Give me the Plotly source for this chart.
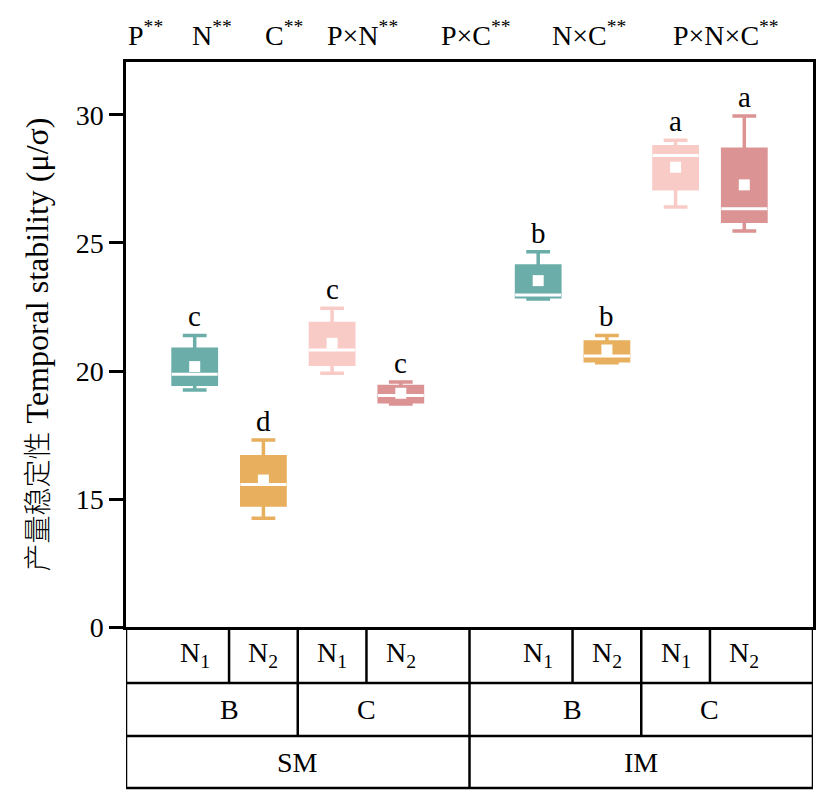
import plotly.graph_objs as go

# Box statistics (SM: B-N1, B-N2, C-N1, C-N2, IM: same order)
positions = [1, 2, 3, 4, 6, 7, 8, 9]
upper = [21.39, 17.30, 22.45, 19.57, 24.66, 21.39, 29.01, 29.96]
q3 = [20.85, 16.65, 21.86, 19.39, 24.10, 21.13, 28.76, 28.66]
median = [19.87, 15.57, 20.82, 19.04, 22.97, 20.59, 28.42, 26.34]
q1 = [19.48, 14.77, 20.26, 18.80, 22.90, 20.40, 27.12, 25.85]
lower = [19.26, 14.25, 19.91, 18.71, 22.81, 20.32, 26.41, 25.47]
mean = [20.17, 15.74, 21.08, 19.13, 23.53, 20.82, 27.96, 27.27]
letters = ['c', 'd', 'c', 'c', 'b', 'b', 'a', 'a']

# axis is broken: the bottom of the axis (10) is labelled 0
tick_vals = [10, 15, 20, 25, 30]
tick_text = ['0', '15', '20', '25', '30']

effects = ['P<sup>**</sup>', 'N<sup>**</sup>', 'C<sup>**</sup>', 'P×N<sup>**</sup>',
           'P×C<sup>**</sup>', 'N×C<sup>**</sup>', 'P×N×C<sup>**</sup>']
effect_x = [126, 190, 263, 325, 439, 550, 671]

n_labels = ['N<sub>1</sub>', 'N<sub>2</sub>'] * 4
c_labels = ['B', 'C', 'B', 'C']
c_pos = [1.5, 3.5, 6.5, 8.5]
m_labels = ['SM', 'IM']
m_pos = [2.5, 7.5]

my_colors = ['#6BADA8', '#E8B05E', '#F9CBC7', '#DB9393']
serif = 'Liberation Serif, Noto Sans CJK SC'

fig = go.Figure()

for i, p in enumerate(positions):
    color = my_colors[i % 4]
    fig.add_trace(go.Box(x=[p], q1=[q1[i]], median=[median[i]], q3=[q3[i]],
                         lowerfence=[lower[i]], upperfence=[upper[i]],
                         width=0.63, whiskerwidth=0.55,
                         fillcolor=color, line={'color': color, 'width': 3.5},
                         showlegend=False, hoverinfo='skip'))
    # white median line over the box
    fig.add_trace(go.Scatter(x=[p - 0.335, p + 0.335], y=[median[i], median[i]],
                             mode='lines', line={'color': 'white', 'width': 3},
                             showlegend=False, hoverinfo='skip'))

fig.add_trace(go.Scatter(x=positions, y=mean, mode='markers',
                         marker={'symbol': 'square', 'size': 11, 'color': 'white'},
                         showlegend=False, hoverinfo='skip'))

annotations = []
for i, p in enumerate(positions):
    annotations.append(dict(x=p, y=upper[i], text=letters[i], showarrow=False,
                            yanchor='bottom', yshift=1, font={'size': 29}))

for i, t in enumerate(effects):
    annotations.append(dict(x=(effect_x[i] - 126) / 687, y=1.05, xref='paper', yref='paper',
                            text=t, showarrow=False, xanchor='left', yanchor='middle',
                            font={'size': 28}))

# table under the plot
rows = [0, -0.0991, -0.1929, -0.2850]
for i, p in enumerate(positions):
    annotations.append(dict(x=p, y=(rows[0] + rows[1]) / 2, yref='paper', text=n_labels[i],
                            showarrow=False, xanchor='center', yanchor='middle', font={'size': 28}))
for i, p in enumerate(c_pos):
    annotations.append(dict(x=p, y=(rows[1] + rows[2]) / 2, yref='paper', text=c_labels[i],
                            showarrow=False, xanchor='center', yanchor='middle', font={'size': 28}))
for i, p in enumerate(m_pos):
    annotations.append(dict(x=p, y=(rows[2] + rows[3]) / 2, yref='paper', text=m_labels[i],
                            showarrow=False, xanchor='center', yanchor='middle', font={'size': 28}))

shapes = []
line = {'color': 'black', 'width': 2.5}
for r in rows[1:]:
    shapes.append(dict(type='line', x0=0, x1=10, y0=r, y1=r, xref='x', yref='paper', line=line))
for xv in [0, 5, 10]:
    shapes.append(dict(type='line', x0=xv, x1=xv, y0=0, y1=rows[3], xref='x', yref='paper', line=line))
for xv in [2.5, 7.5]:
    shapes.append(dict(type='line', x0=xv, x1=xv, y0=0, y1=rows[2], xref='x', yref='paper', line=line))
for xv in [1.5, 3.5, 6.5, 8.5]:
    shapes.append(dict(type='line', x0=xv, x1=xv, y0=0, y1=rows[1], xref='x', yref='paper', line=line))

# page body has an 8px margin, so the figure is a bit smaller than the window
fig.update_layout(width=824, height=798, margin=dict(l=118, r=19, t=54, b=179),
                  plot_bgcolor='white', paper_bgcolor='white',
                  font={'family': serif, 'color': 'black'},
                  annotations=annotations, shapes=shapes)
fig.update_xaxes(range=[0, 10], showline=True, linecolor='black', linewidth=2.5, mirror=True,
                 showgrid=False, zeroline=False, showticklabels=False, ticks='')
fig.update_yaxes(range=[10, 32.07], tickvals=tick_vals, ticktext=tick_text,
                 showline=True, linecolor='black', linewidth=2.5, mirror=True,
                 ticks='outside', ticklen=14, tickwidth=2.5, tickcolor='black',
                 showgrid=False, zeroline=False, tickfont={'size': 28},
                 title={'text': '<span style="font-size:28px;font-weight:300">产量稳定性</span> Temporal stability (μ/σ)',
                        'font': {'size': 32}, 'standoff': 18})

fig.write_html('out.html')
